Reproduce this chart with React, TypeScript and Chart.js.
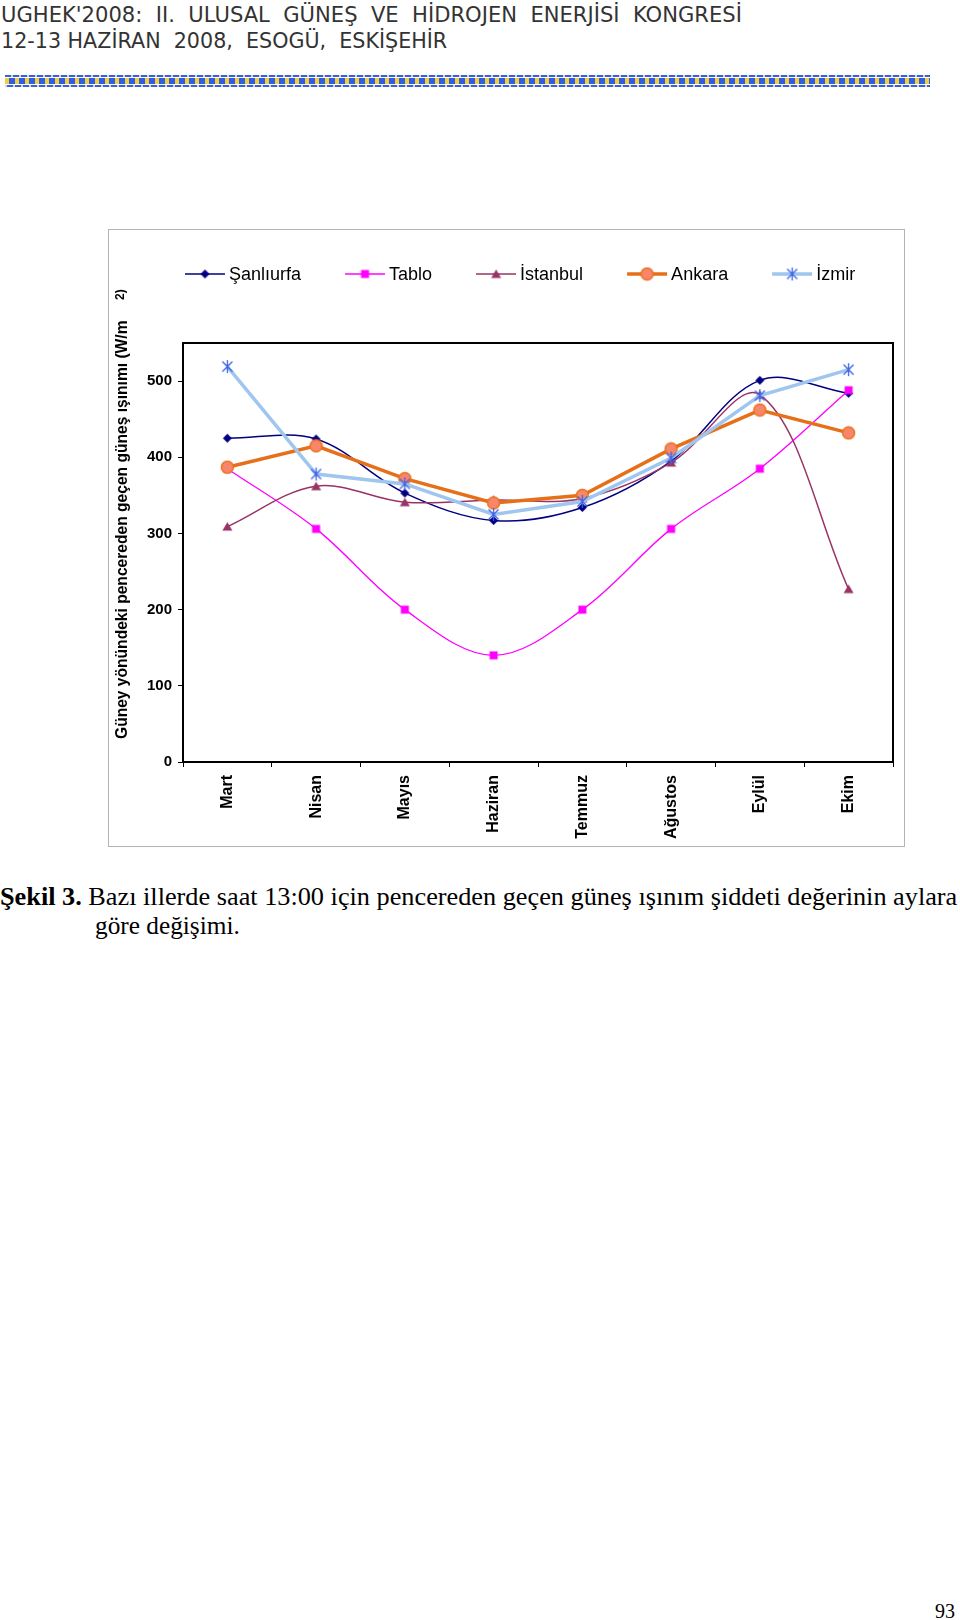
import React, { useEffect, useLayoutEffect, useRef, useState } from 'react';
import { Chart, registerables } from 'chart.js';

Chart.register(...registerables);

// ---------- data ----------
const months = ['Mart', 'Nisan', 'Mayıs', 'Haziran', 'Temmuz', 'Ağustos', 'Eylül', 'Ekim'];
const sanliurfa = [425, 424, 353, 317, 334, 395, 501, 484];
const tablo = [385, 306, 200, 140, 200, 306, 385, 488];
const istanbul = [309, 362, 341, 344, 346, 393, 482, 227];
const ankara = [387, 415, 372, 340, 350, 411, 462, 432];
const izmir = [519, 378, 365, 325, 342, 399, 481, 515];
const seriesNames = ['Şanlıurfa', 'Tablo', 'İstanbul', 'Ankara', 'İzmir'];
const yMin = 0;
const yMax = 550;
const yStep = 100;
const yTitle = 'Güney yönündeki pencereden geçen güneş ışınımı (W/m';
const yTitleSup = '2)';

const FONT = 'Arial, "Liberation Sans", sans-serif';

function makeMarker(kind: string): HTMLCanvasElement {
  const c = document.createElement('canvas');
  const s = kind === 'circle' || kind === 'star' ? 15 : 11;
  c.width = s;
  c.height = s;
  const g = c.getContext('2d') as CanvasRenderingContext2D;
  const m = s / 2;
  if (kind === 'diamond') {
    g.fillStyle = '#000080';
    g.beginPath();
    g.moveTo(m, m - 4.5);
    g.lineTo(m + 4.5, m);
    g.lineTo(m, m + 4.5);
    g.lineTo(m - 4.5, m);
    g.closePath();
    g.fill();
  } else if (kind === 'square') {
    g.fillStyle = '#FF00FF';
    g.fillRect(m - 4, m - 4, 8, 8);
  } else if (kind === 'triangle') {
    g.fillStyle = '#993366';
    g.beginPath();
    g.moveTo(m, m - 4.5);
    g.lineTo(m + 5, m + 4);
    g.lineTo(m - 5, m + 4);
    g.closePath();
    g.fill();
  } else if (kind === 'circle') {
    g.fillStyle = '#F9866C';
    g.strokeStyle = '#E8731C';
    g.lineWidth = 1.5;
    g.beginPath();
    g.arc(m, m, 6, 0, Math.PI * 2);
    g.fill();
    g.stroke();
  } else {
    g.strokeStyle = '#3D62E6';
    g.lineWidth = 1.3;
    g.beginPath();
    g.moveTo(m - 5, m - 5);
    g.lineTo(m + 5, m + 5);
    g.moveTo(m + 5, m - 5);
    g.lineTo(m - 5, m + 5);
    g.moveTo(m, m - 6.5);
    g.lineTo(m, m + 6.5);
    g.stroke();
  }
  return c;
}

const framePlugin = {
  id: 'frame',
  beforeDraw(chart: any) {
    const ctx = chart.ctx;
    ctx.save();
    ctx.fillStyle = '#fff';
    ctx.fillRect(0, 0, chart.width, chart.height);
    ctx.strokeStyle = '#b4b4b4';
    ctx.lineWidth = 1;
    ctx.strokeRect(0.5, 0.5, chart.width - 1, chart.height - 1);
    ctx.restore();
  },
  beforeDatasetsDraw(chart: any) {
    const { ctx, chartArea: a } = chart;
    ctx.save();
    ctx.strokeStyle = '#000';
    ctx.lineWidth = 2;
    ctx.strokeRect(a.left, a.top, a.right - a.left, a.bottom - a.top);
    ctx.restore();
  },
};

const legendPlugin = {
  id: 'customLegend',
  afterDraw(chart: any) {
    const ctx = chart.ctx;
    ctx.save();
    ctx.font = '18px ' + FONT;
    ctx.textBaseline = 'alphabetic';
    ctx.textAlign = 'left';
    let x = 77;
    const y = 45;
    chart.data.datasets.forEach((ds: any) => {
      ctx.strokeStyle = ds.borderColor;
      ctx.lineWidth = ds.borderWidth;
      ctx.beginPath();
      ctx.moveTo(x, y);
      ctx.lineTo(x + 40, y);
      ctx.stroke();
      const img = ds.pointStyle as HTMLCanvasElement;
      ctx.drawImage(img, x + 20 - img.width / 2, y - img.height / 2);
      ctx.fillStyle = '#000';
      ctx.fillText(ds.label, x + 44, y + 6);
      x += 44 + ctx.measureText(ds.label).width + 44;
    });
    ctx.restore();
  },
};

const yTitlePlugin = {
  id: 'yTitle',
  afterDraw(chart: any) {
    const ctx = chart.ctx;
    ctx.save();
    ctx.fillStyle = '#000';
    ctx.font = 'bold 15.6px ' + FONT;
    ctx.textBaseline = 'middle';
    ctx.textAlign = 'left';
    ctx.translate(15, 510);
    ctx.rotate(-Math.PI / 2);
    ctx.fillText(yTitle, 0, 0);
    ctx.restore();
    ctx.save();
    ctx.fillStyle = '#000';
    ctx.font = 'bold 12px ' + FONT;
    ctx.textBaseline = 'middle';
    ctx.textAlign = 'left';
    ctx.translate(13, 71);
    ctx.rotate(-Math.PI / 2);
    ctx.fillText(yTitleSup, 0, 0);
    ctx.restore();
  },
};

const BOX_W = 797;
const BOX_H = 618;

function ChartBox() {
  const ref = useRef<HTMLCanvasElement>(null);
  useEffect(() => {
    if (!ref.current) return;
    const markers = ['diamond', 'square', 'triangle', 'circle', 'star'].map(makeMarker);
    const values = [sanliurfa, tablo, istanbul, ankara, izmir];
    const colors = ['#000080', '#FF00FF', '#993366', '#E6701A', '#9EC6EE'];
    const widths = [1.5, 1.3, 1.5, 3.5, 3.5];
    const tensions = [0.35, 0.35, 0.35, 0, 0];
    const datasets = values.map((v, i) => ({
      label: seriesNames[i],
      data: v,
      borderColor: colors[i],
      backgroundColor: colors[i],
      borderWidth: widths[i],
      tension: tensions[i],
      pointStyle: markers[i],
      pointRadius: 5,
      fill: false,
      order: 5 - i,
    }));
    const chart = new Chart(ref.current, {
      type: 'line',
      data: { labels: months, datasets },
      options: {
        animation: false,
        responsive: false,
        devicePixelRatio: 1,
        layout: { padding: { top: 114, right: 12, left: 0, bottom: 0 } },
        plugins: { legend: { display: false }, tooltip: { enabled: false } },
        scales: {
          x: {
            offset: true,
            grid: { offset: true, drawOnChartArea: false, color: '#000', tickLength: 5 },
            border: { display: false },
            ticks: {
              autoSkip: false,
              minRotation: 90,
              maxRotation: 90,
              padding: 8,
              color: '#000',
              font: { family: FONT, size: 16, weight: 'bold' },
            },
            afterFit: (s: any) => {
              s.height = 85;
            },
          },
          y: {
            min: yMin,
            max: yMax,
            ticks: {
              stepSize: yStep,
              includeBounds: false,
              padding: 6,
              color: '#000',
              font: { family: FONT, size: 15, weight: 'bold' },
            },
            grid: { drawOnChartArea: false, color: '#000', tickLength: 5 },
            border: { display: false },
            afterFit: (s: any) => {
              s.width = 75;
            },
          },
        },
      } as any,
      plugins: [framePlugin, legendPlugin, yTitlePlugin],
    });
    return () => chart.destroy();
  }, []);
  return (
    <div style={{ position: 'absolute', left: 108, top: 229, width: BOX_W, height: BOX_H }}>
      <canvas ref={ref} width={BOX_W} height={BOX_H} style={{ display: 'block', width: BOX_W, height: BOX_H }} />
    </div>
  );
}

function FitText(props: { x: number; y: number; width: number; style: any; children: any }) {
  const ref = useRef<HTMLDivElement>(null);
  const [sx, setSx] = useState(1);
  useLayoutEffect(() => {
    const el = ref.current;
    if (el) {
      const w = el.scrollWidth;
      if (w > 0) setSx(props.width / w);
    }
  }, []);
  return (
    <div
      ref={ref}
      style={{
        position: 'absolute',
        left: props.x,
        top: props.y,
        whiteSpace: 'pre',
        transformOrigin: '0 0',
        transform: `scaleX(${sx})`,
        ...props.style,
      }}
    >
      {props.children}
    </div>
  );
}

const headerStyle = {
  fontFamily: '"DejaVu Sans", sans-serif',
  fontSize: 22,
  lineHeight: '22px',
  color: '#333',
};
const captionStyle = {
  fontFamily: '"Liberation Serif", "Times New Roman", serif',
  fontSize: 26,
  lineHeight: '26px',
  color: '#000',
};

export default function App() {
  return (
    <div style={{ position: 'absolute', left: 0, top: 0, width: 960, height: 1620, background: '#fff', overflow: 'hidden' }}>
      <FitText x={1} y={4} width={741} style={headerStyle}>
        {"UGHEK'2008:  II.  ULUSAL  GÜNEŞ  VE  HİDROJEN  ENERJİSİ  KONGRESİ"}
      </FitText>
      <FitText x={1} y={30} width={446} style={headerStyle}>
        {'12-13 HAZİRAN  2008,  ESOGÜ,  ESKİŞEHİR'}
      </FitText>
      <div
        style={{
          position: 'absolute',
          left: 5,
          top: 75,
          width: 925,
          height: 2,
          background: 'repeating-linear-gradient(90deg, #3a62d8 0 6px, #c9d3ee 6px 8px)',
        }}
      />
      <div
        style={{
          position: 'absolute',
          left: 5,
          top: 78,
          width: 925,
          height: 6,
          background: 'repeating-linear-gradient(90deg, #f2cf3a 0 4px, #2f5de6 4px 10px)',
        }}
      />
      <div
        style={{
          position: 'absolute',
          left: 5,
          top: 85,
          width: 925,
          height: 2,
          background: 'repeating-linear-gradient(90deg, #c9d3ee 0 2px, #3a62d8 2px 8px)',
        }}
      />
      <ChartBox />
      <FitText x={0} y={884} width={957} style={captionStyle}>
        <b>Şekil 3.</b>
        {' Bazı illerde saat 13:00 için pencereden geçen güneş ışınım şiddeti değerinin aylara'}
      </FitText>
      <FitText x={95} y={913} width={145} style={captionStyle}>
        {'göre değişimi.'}
      </FitText>
      <FitText x={935} y={1601} width={20} style={{ ...captionStyle, fontSize: 20, lineHeight: '20px' }}>
        {'93'}
      </FitText>
    </div>
  );
}
